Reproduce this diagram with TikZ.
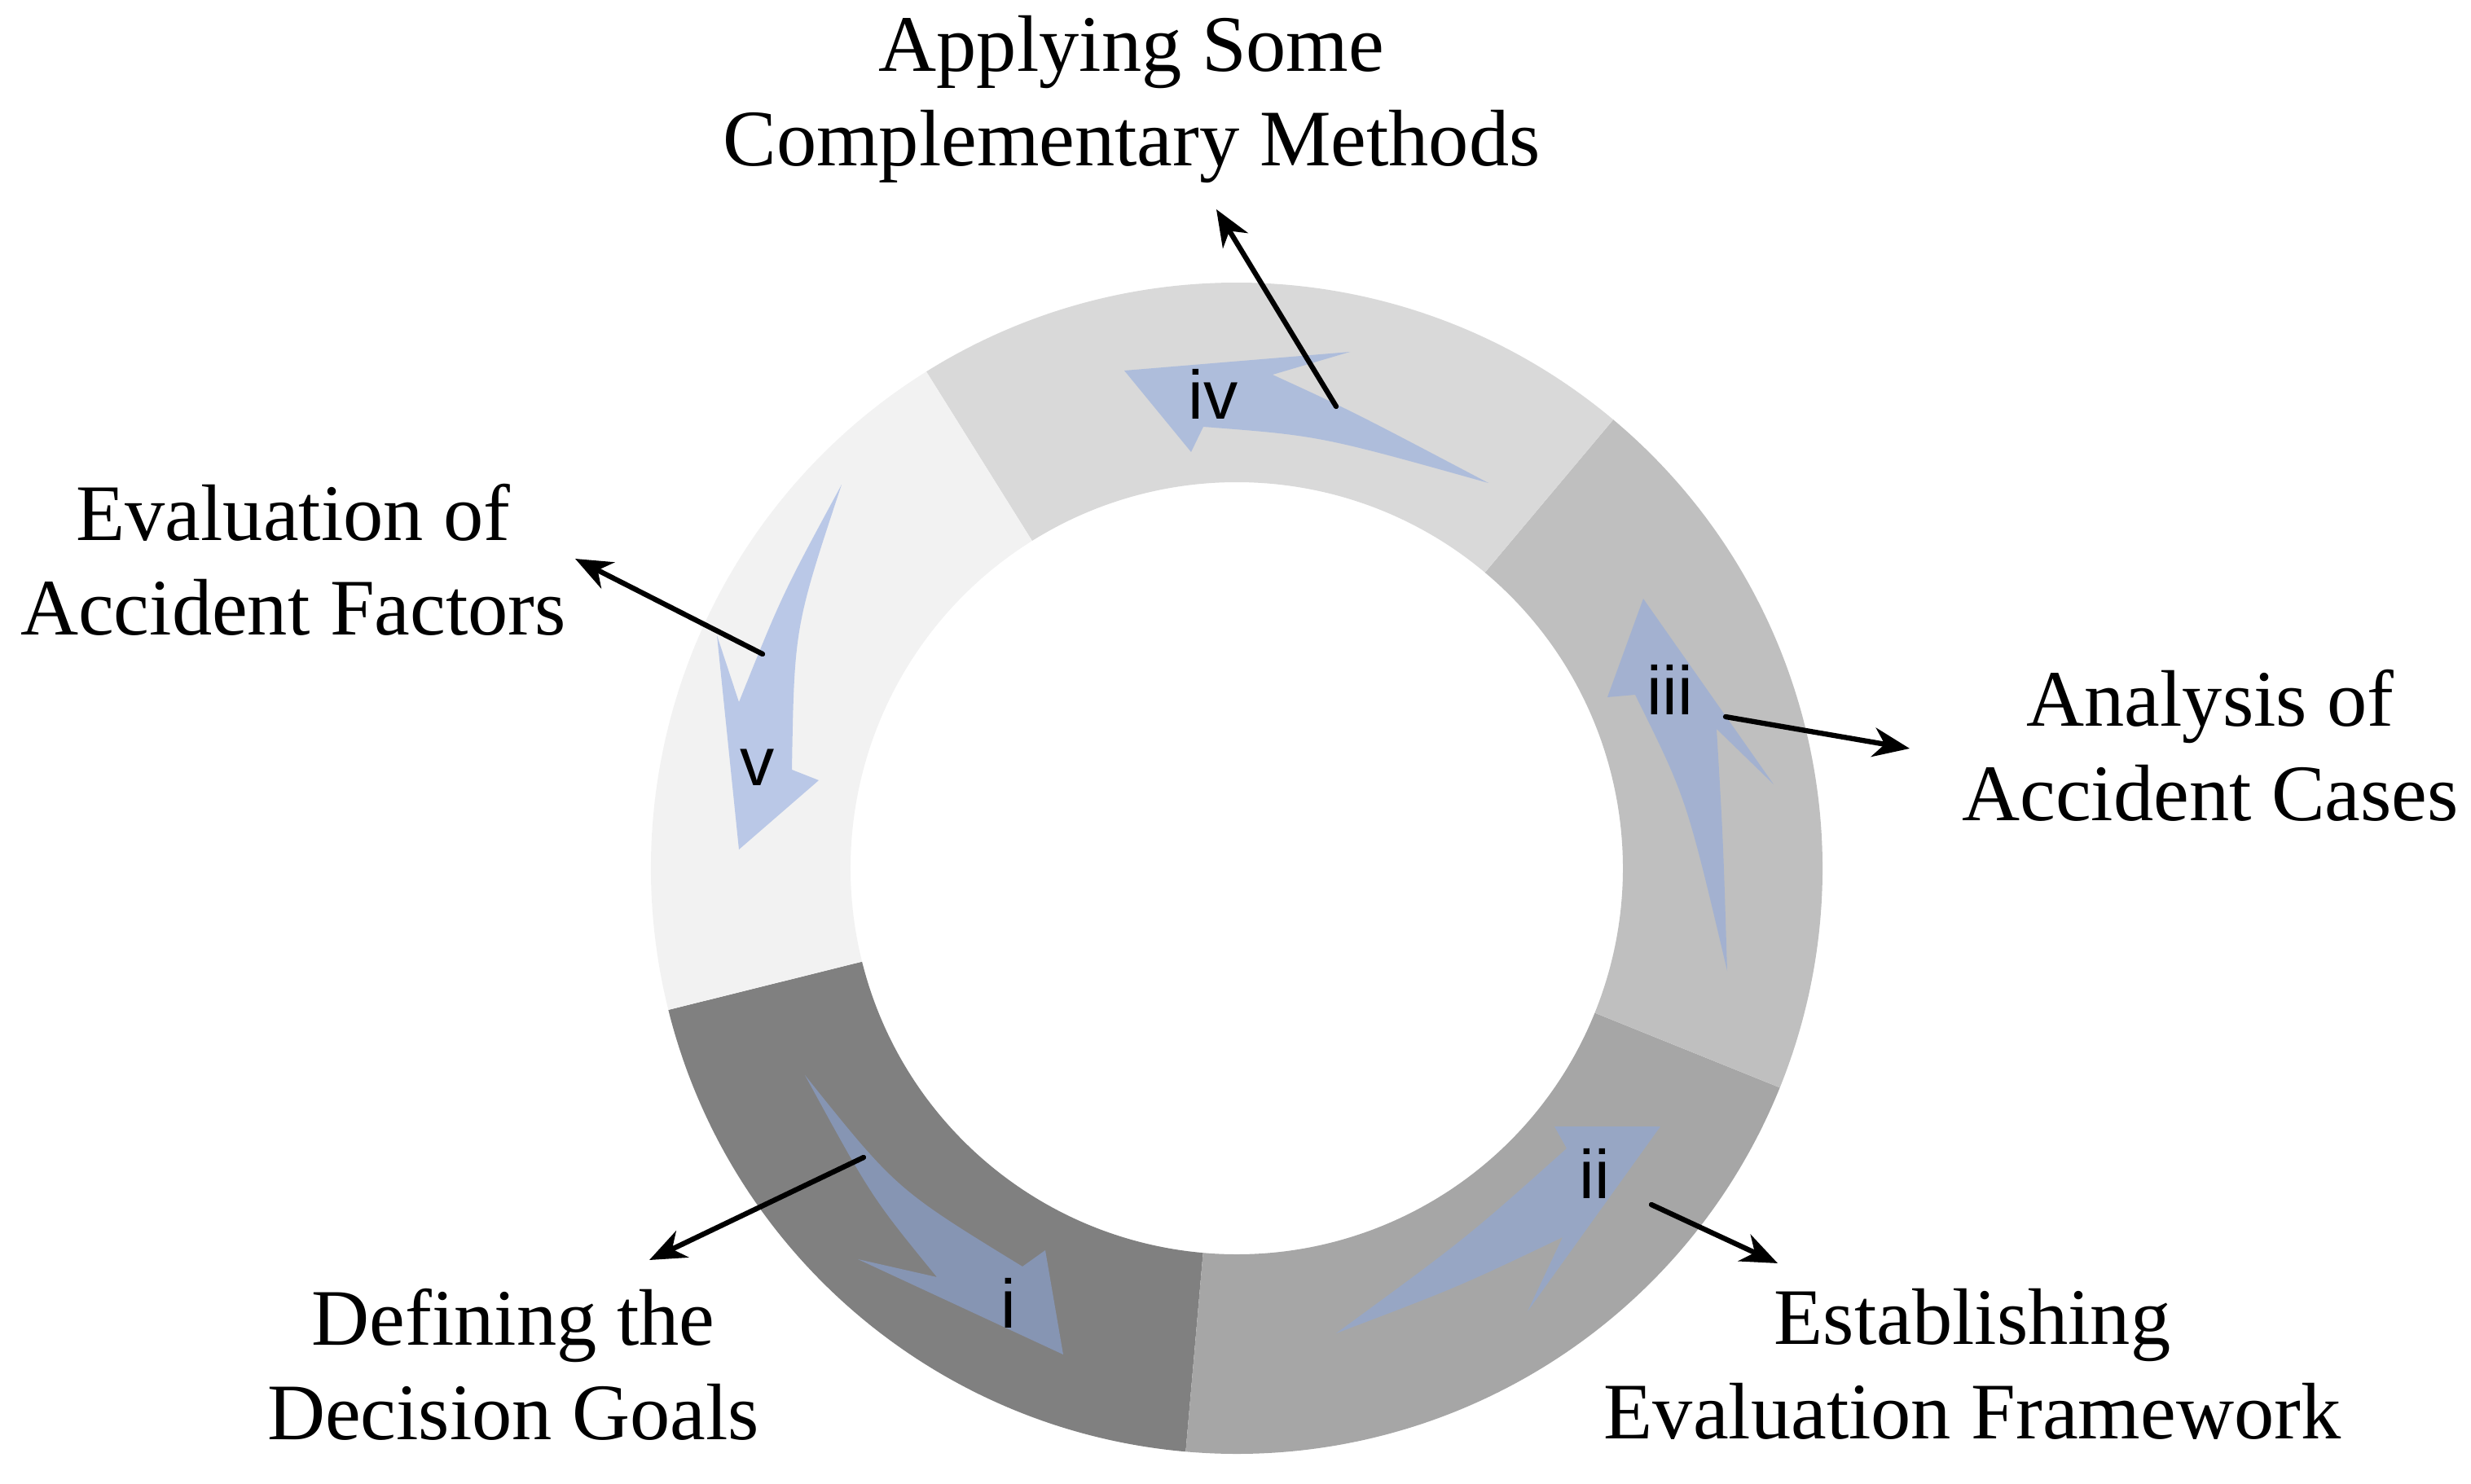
\documentclass[tikz,border=0pt]{standalone}
\usepackage{fontspec}
\setmainfont{Liberation Serif}
\newfontfamily\numfont{Liberation Sans}
\usetikzlibrary{calc,arrows.meta}
\definecolor{gA}{HTML}{808080}
\definecolor{gB}{HTML}{A6A6A6}
\definecolor{gC}{HTML}{BFBFBF}
\definecolor{gD}{HTML}{D9D9D9}
\definecolor{gE}{HTML}{F2F2F2}
\definecolor{blu}{RGB}{140,167,222}
\begin{document}
\begin{tikzpicture}[
  lbl/.style={font=\fontsize{28}{33}\selectfont, align=center},
  num/.style={font=\numfont\fontsize{24}{28}\selectfont},
  ptr/.style={line width=1.8pt, line cap=round, -{Stealth[length=0.45cm,width=0.36cm,inset=0.14cm]}},
  barrow/.style={fill=blu, fill opacity=0.55}]
\useasboundingbox (0,0) rectangle (30.33,-18.22);
\coordinate (C) at (15.18,-10.66);
\def\seg#1#2#3{\fill[#3] ($(C)+(#1:7.19)$) arc[start angle=#1,end angle=#2,radius=7.19] -- ($(C)+(#2:4.74)$) arc[start angle=#2,end angle=#1,radius=4.74] -- cycle;}
\seg{194}{265}{gA}
\seg{265}{338}{gB}
\seg{338}{410}{gC}
\seg{50}{122}{gD}
\seg{122}{194}{gE}
% blue arrows
\fill[barrow] (13.80,-4.55) -- (16.57,-4.32) -- (15.62,-4.60) .. controls (16.6,-5.05) .. (18.27,-5.93) .. controls (16.2,-5.35) .. (14.77,-5.24) -- (14.62,-5.55) -- cycle;
\fill[barrow] (20.17,-7.35) -- (21.77,-9.63) -- (21.07,-8.95) .. controls (21.15,-10.3) .. (21.20,-11.92) .. controls (20.7,-9.8) .. (20.07,-8.53) -- (19.73,-8.56) -- cycle;
\fill[barrow] (20.38,-13.83) -- (18.75,-16.10) -- (19.18,-15.19) .. controls (17.9,-15.8) .. (16.40,-16.37) .. controls (18.0,-15.2) .. (19.23,-14.10) -- (19.08,-13.83) -- cycle;
\fill[barrow] (13.05,-16.63) -- (12.83,-15.35) -- (12.55,-15.55) .. controls (11.0,-14.6) .. (9.88,-13.20) .. controls (10.7,-14.7) .. (11.50,-15.68) -- (10.53,-15.46) -- cycle;
\fill[barrow] (9.07,-10.43) -- (10.05,-9.58) -- (9.72,-9.45) .. controls (9.75,-7.7) .. (10.33,-5.95) .. controls (9.6,-7.3) .. (9.07,-8.62) -- (8.80,-7.80) -- cycle;
% numerals
\node[num] (n4) at (14.89,-4.84) {iv};
\node[num] (n3) at (20.50,-8.47) {iii};
\node[num] (n2) at (19.57,-14.41) {ii};
\node[num] (n1) at (12.38,-16.00) {i};
\node[num] (n5) at (9.30,-9.42) {v};
% labels
\node[lbl] (L4) at (13.89,-1.22) {Applying Some\\Complementary Methods};
\node[lbl] (L5) at (3.60,-6.87) {Evaluation of\\Accident Factors};
\node[lbl] (L3) at (27.13,-9.15) {Analysis of\\Accident Cases};
\node[lbl] (L1) at (6.30,-16.75) {Defining the\\Decision Goals};
\node[lbl] (L2) at (24.21,-16.75) {Establishing\\Evaluation Framework};
% connectors
\coordinate (s4) at (16.40,-4.99); \coordinate (e4) at (14.93,-2.57);
\coordinate (s5) at (9.36,-8.03); \coordinate (e5) at (7.06,-6.86);
\coordinate (s3) at (21.18,-8.80); \coordinate (e3) at (23.44,-9.19);
\coordinate (s2) at (20.27,-14.79); \coordinate (e2) at (21.82,-15.51);
\coordinate (s1) at (10.60,-14.21); \coordinate (e1) at (7.97,-15.47);
\draw[ptr] (s4) -- (e4);
\draw[ptr] (s5) -- (e5);
\draw[ptr] (s3) -- (e3);
\draw[ptr] (s2) -- (e2);
\draw[ptr] (s1) -- (e1);
\end{tikzpicture}
\end{document}
